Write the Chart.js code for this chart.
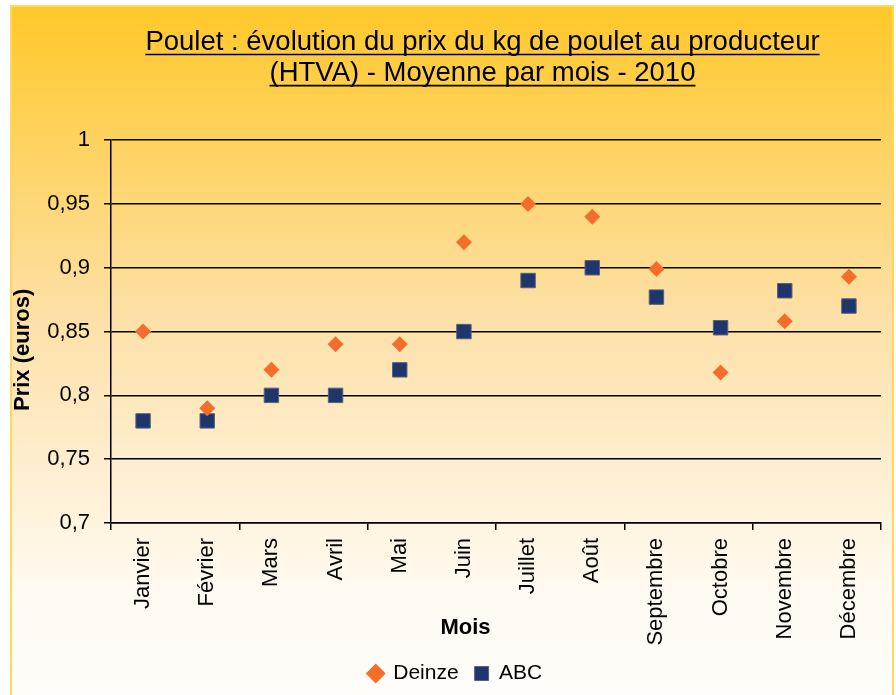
<!DOCTYPE html>
<html>
<head>
<meta charset="utf-8">
<script src="https://cdn.jsdelivr.net/npm/chart.js@4/dist/chart.umd.min.js"></script>
<style>
  html, body { margin: 0; padding: 0; background: #ffffff; }
  #wrap { width: 896px; height: 695px; position: relative; }
</style>
</head>
<body>
<div id="wrap"><canvas id="c" width="896" height="695"></canvas></div>
<script>
const months = ['Janvier', 'Février', 'Mars', 'Avril', 'Mai', 'Juin', 'Juillet', 'Août', 'Septembre', 'Octobre', 'Novembre', 'Décembre'];
const deinze = [0.85, 0.79, 0.82, 0.84, 0.84, 0.92, 0.95, 0.94, 0.899, 0.818, 0.858, 0.893];
const abc    = [0.78, 0.78, 0.80, 0.80, 0.82, 0.85, 0.89, 0.90, 0.877, 0.853, 0.882, 0.870];
const yTickValues = [0.7, 0.75, 0.8, 0.85, 0.9, 0.95, 1];
const yTickLabels = ['0,7', '0,75', '0,8', '0,85', '0,9', '0,95', '1'];
const titleLines = ['Poulet : évolution du prix du kg de poulet au producteur', '(HTVA) - Moyenne par mois - 2010'];

const FONT = "'Liberation Sans', Arial, sans-serif";
const NB = '\u00A0';

const framePlugin = {
  id: 'frame',
  afterLayout(chart) {
    // shift title and legend horizontally, as in the original chart
    if (chart.titleBlock) { chart.titleBlock.left += 37; chart.titleBlock.right += 37; }
    if (chart.legend) { chart.legend.left += 10; chart.legend.right += 10; }
  },
  beforeDraw(chart) {
    const ctx = chart.ctx;
    ctx.save();
    ctx.fillStyle = '#ffffff';
    ctx.fillRect(0, 0, chart.width, chart.height);
    const g = ctx.createLinearGradient(0, 5, 0, 695);
    g.addColorStop(0, '#FFC828');
    g.addColorStop(0.45, '#FDE0A6');
    g.addColorStop(0.85, '#FFFAF1');
    g.addColorStop(1, '#FFFDFA');
    ctx.fillStyle = g;
    ctx.fillRect(10, 5, 884, 695);
    ctx.strokeStyle = '#FFD75E';
    ctx.lineWidth = 2;
    ctx.beginPath();
    ctx.moveTo(11, 700); ctx.lineTo(11, 6); ctx.lineTo(893, 6); ctx.lineTo(893, 700);
    ctx.stroke();
    ctx.restore();
  },
  afterDraw(chart) {
    // underline the title lines
    const tb = chart.titleBlock;
    if (!tb) return;
    const ctx = chart.ctx;
    const opts = chart.options.plugins.title;
    const fontSize = opts.font.size;
    const lh = fontSize * opts.font.lineHeight;
    ctx.save();
    ctx.font = fontSize + 'px ' + FONT;
    ctx.strokeStyle = '#000';
    ctx.lineWidth = 1.6;
    const cx = (tb.left + tb.right) / 2;
    const top = tb.top + opts.padding.top;
    titleLines.forEach((t, i) => {
      const w = ctx.measureText(t).width;
      const y = top + lh * i + lh / 2 + 12.5;
      ctx.beginPath();
      ctx.moveTo(cx - w / 2, y);
      ctx.lineTo(cx + w / 2, y);
      ctx.stroke();
    });
    ctx.restore();
  }
};

new Chart(document.getElementById('c'), {
  type: 'line',
  data: {
    labels: months,
    datasets: [
      {
        label: 'Deinze',
        data: deinze,
        showLine: false,
        pointStyle: 'rectRot',
        pointRadius: 8,
        pointHoverRadius: 8,
        backgroundColor: '#F26E2A',
        borderColor: '#F26E2A',
        pointBorderWidth: 0
      },
      {
        label: 'ABC',
        data: abc,
        showLine: false,
        pointStyle: 'rect',
        pointRadius: 10.2,
        pointHoverRadius: 10.2,
        backgroundColor: '#1F356E',
        borderColor: '#55617f',
        pointBorderWidth: 1
      }
    ]
  },
  options: {
    responsive: false,
    animation: false,
    layout: { padding: { left: 10, right: 15, top: 5, bottom: 1 } },
    plugins: {
      tooltip: { enabled: false },
      title: {
        display: true,
        text: titleLines,
        color: '#000',
        font: { family: FONT, size: 27.5, weight: 'normal', lineHeight: 1.13 },
        padding: { top: 21.5, bottom: 51.5 }
      },
      legend: {
        position: 'bottom',
        labels: {
          usePointStyle: true,
          boxHeight: 14,
          boxWidth: 14,
          padding: 16,
          color: '#000',
          font: { family: FONT, size: 21 }
        }
      }
    },
    scales: {
      x: {
        type: 'category',
        offset: true,
        grid: {
          offset: true,
          drawOnChartArea: false,
          drawTicks: true,
          tickLength: 7,
          color: '#000',
          lineWidth: 1.5
        },
        border: { display: true, color: '#000', width: 1.5 },
        ticks: {
          color: '#000',
          font: { family: FONT, size: 22 },
          minRotation: 90,
          maxRotation: 90,
          padding: 8,
          autoSkip: true,
          maxTicksLimit: 12
        },
        title: {
          display: true,
          text: 'Mois' + NB.repeat(10),
          color: '#000',
          font: { family: FONT, size: 22, weight: 'bold' },
          padding: { top: 0, bottom: 6 }
        },
        afterFit(scale) { scale.height = 124; }
      },
      y: {
        min: 0.7,
        max: 1,
        afterBuildTicks(scale) { scale.ticks = yTickValues.map(v => ({ value: v })); },
        grid: {
          color: '#000',
          lineWidth: 1.5,
          drawTicks: true,
          tickLength: 7
        },
        border: { display: true, color: '#000', width: 1.5 },
        ticks: {
          color: '#000',
          font: { family: FONT, size: 22 },
          padding: 14,
          callback(value) {
            const i = yTickValues.findIndex(v => Math.abs(v - value) < 1e-9);
            return i >= 0 ? yTickLabels[i] : '';
          }
        },
        title: {
          display: true,
          text: 'Prix (euros)' + NB.repeat(6),
          color: '#000',
          font: { family: FONT, size: 22, weight: 'bold' },
          padding: { top: 0, bottom: 0 }
        },
        afterFit(scale) { scale.width = 101; }
      }
    }
  },
  plugins: [framePlugin]
});
</script>
</body>
</html>
